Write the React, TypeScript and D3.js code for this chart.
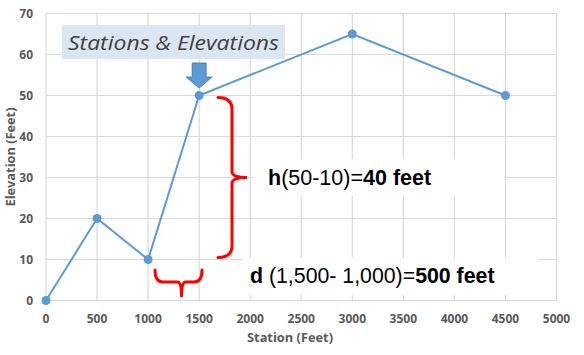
import React from "react";
import * as d3 from "d3";

const stations = [0, 500, 1000, 1500, 3000, 4500];
const elevations = [0, 20, 10, 50, 65, 50];
const xTicks = [0, 500, 1000, 1500, 2000, 2500, 3000, 3500, 4000, 4500, 5000];
const yTicks = [0, 10, 20, 30, 40, 50, 60, 70];
const titleText = "Stations & Elevations";
const xTitle = "Station (Feet)";
const yTitle = "Elevation (Feet)";

export default function App() {
  const W = 584, H = 355;
  const x = d3.scaleLinear().domain([0, 5000]).range([46, 556.5]);
  const y = d3.scaleLinear().domain([0, 70]).range([300.5, 13.5]);
  const line = d3.line<number>().x((_, i) => x(stations[i])).y((d) => y(d));
  const blue = "#5b9bd5";
  const grid = "#d9d9d9";
  const lab = "#595959";
  const axisFont = "'Open Sans', 'Liberation Sans', sans-serif";

  // right brace (vertical), spanning y(50)+2 .. y(10)-2
  const bx = 218, top = y(50) + 2, bot = y(10) - 2, mid = (top + bot) / 2, bxi = 232, tip = 247;
  const braceV = `M${bx},${top} Q${bxi},${top} ${bxi},${top + 12} L${bxi},${mid - 6} Q${bxi},${mid} ${tip},${mid} Q${bxi},${mid} ${bxi},${mid + 6} L${bxi},${bot - 12} Q${bxi},${bot} ${bx},${bot}`;
  // bottom brace (horizontal)
  const hx1 = 155, hx2 = 202, hy = 270, hyi = 282, hmid = 181.5, htip = 297;
  const braceH = `M${hx1},${hy} Q${hx1},${hyi} ${hx1 + 8},${hyi} L${hmid - 4},${hyi} Q${hmid},${hyi} ${hmid},${htip} Q${hmid},${hyi} ${hmid + 4},${hyi} L${hx2 - 8},${hyi} Q${hx2},${hyi} ${hx2},${hy}`;

  const ax = x(1500);
  return (
    <svg width={W} height={H} style={{ position: "absolute", left: 0, top: 0 }} fontFamily="'Liberation Sans', Arial, sans-serif">
      <rect width={W} height={H} fill="#fff" />
      {xTicks.map((t) => (
        <line key={"gx" + t} x1={x(t)} x2={x(t)} y1={y(70)} y2={y(0)} stroke={grid} strokeWidth={1.2} />
      ))}
      {yTicks.map((t) => (
        <line key={"gy" + t} x1={x(0)} x2={x(5000)} y1={y(t)} y2={y(t)} stroke={grid} strokeWidth={1.2} />
      ))}
      {yTicks.map((t) => (
        <text key={"ly" + t} x={33} y={y(t) + 4} textAnchor="end" fontSize={12} fontWeight="bold" fill={lab} fontFamily={axisFont}>{t}</text>
      ))}
      {xTicks.map((t) => (
        <text key={"lx" + t} x={x(t)} y={323} textAnchor="middle" fontSize={12} fontWeight="bold" fill={lab} fontFamily={axisFont}>{t}</text>
      ))}
      <text x={290} y={342} textAnchor="middle" fontSize={13} fontWeight="bold" fill={lab} fontFamily={axisFont} textLength={86} lengthAdjust="spacingAndGlyphs">{xTitle}</text>
      <text transform={`translate(15,157) rotate(-90)`} textAnchor="middle" fontSize={13} fontWeight="bold" fill={lab} fontFamily={axisFont} textLength={99} lengthAdjust="spacingAndGlyphs">{yTitle}</text>

      {/* white label backgrounds */}
      <rect x={254} y={159} width={250} height={37} fill="#fff" />
      <rect x={243} y={258} width={295} height={37} fill="#fff" />

      <path d={line(elevations) || ""} fill="none" stroke={blue} strokeWidth={2} />
      {elevations.map((e, i) => (
        <circle key={"p" + i} cx={x(stations[i])} cy={y(e)} r={4.5} fill={blue} />
      ))}

      {/* title box */}
      <rect x={62} y={25} width={223} height={34} fill="#dce6f2" />
      <text x={68} y={50} fontSize={20} fontStyle="italic" fill="#404040" fontFamily="'Open Sans', sans-serif" textLength={211} lengthAdjust="spacingAndGlyphs">{titleText}</text>

      {/* arrow */}
      <path d={`M${ax - 7},63 L${ax + 7},63 L${ax + 7},77 L${ax + 13},77 L${ax},88 L${ax - 13},77 L${ax - 7},77 Z`} fill={blue} stroke="#41719c" strokeWidth={0.8} />

      {/* braces */}
      <path d={braceV} fill="none" stroke="#ff0000" strokeWidth={3} strokeLinecap="round" />
      <path d={braceH} fill="none" stroke="#ff0000" strokeWidth={3} strokeLinecap="round" />

      <text x={268} y={185} fontSize={21.5} fill="#000">
        <tspan fontWeight="bold">h</tspan>
        <tspan>(50-10)=</tspan>
        <tspan fontWeight="bold">40 feet</tspan>
      </text>
      <text x={250} y={283} fontSize={21.3} fill="#000">
        <tspan fontWeight="bold">d</tspan>
        <tspan> (1,500- 1,000)=</tspan>
        <tspan fontWeight="bold">500 feet</tspan>
      </text>
    </svg>
  );
}
